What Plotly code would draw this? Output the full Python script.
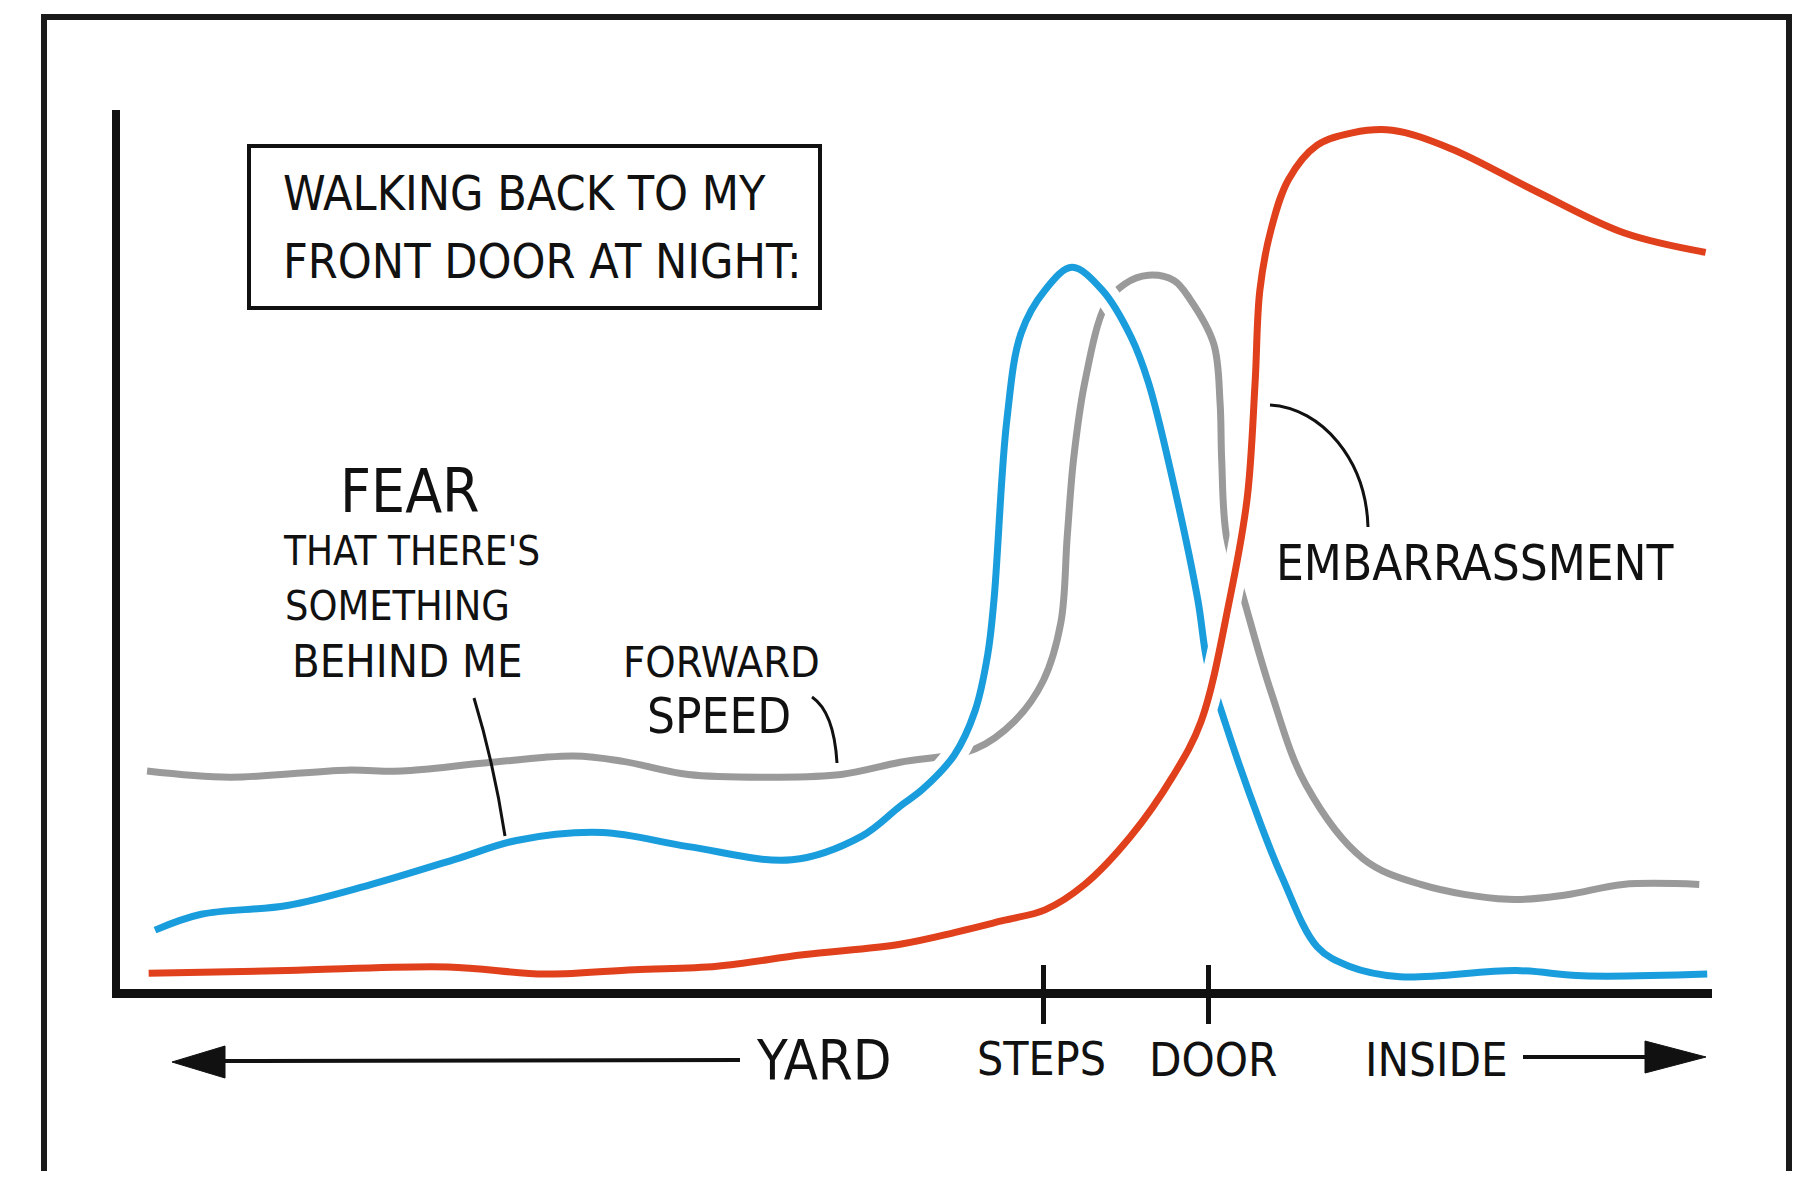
import plotly.graph_objects as go

# ---------------- data (x: 0..100 along the walk, y: 0..100 level) ----------------
speed_x = [1.7, 6.9, 14.2, 17.7, 22.9, 28.5, 31.6, 35.7, 41.1, 45.3, 49.0, 53.7, 56.2, 58.0, 59.1,
           59.5, 59.9, 60.6, 61.9, 63.1, 64.6, 66.2, 67.2, 68.7, 69.1, 69.2, 69.5, 70.6, 72.3,
           74.5, 78.1, 81.7, 87.2, 90.8, 94.4, 99.2]
speed_y = [24.8, 24.1, 24.9, 24.8, 25.7, 26.5, 25.9, 24.4, 24.1, 24.4, 25.8, 27.3, 30.5, 35.1, 41.7,
           51.5, 60.3, 69.0, 77.8, 80.2, 81.2, 80.6, 78.5, 73.4, 66.7, 60.3, 51.5, 44.3, 33.8,
           23.2, 14.8, 11.9, 10.2, 10.7, 11.9, 11.9]

fear_x = [2.2, 5.1, 10.5, 15.6, 21.3, 24.9, 30.3, 35.7, 42.2, 46.6, 49.0, 50.4, 52.4, 53.7, 54.5,
          54.9, 55.7, 56.6, 58.1, 59.8, 61.7, 63.5, 64.6, 66.1, 67.7, 68.3, 69.4, 71.6, 73.0,
          75.2, 77.2, 80.4, 87.7, 91.9, 99.7]
fear_y = [6.7, 8.5, 9.5, 11.8, 14.9, 16.9, 17.8, 16.2, 14.7, 17.4, 20.8, 22.7, 26.6, 31.6, 38.0,
          44.3, 64.6, 74.6, 79.5, 82.1, 79.5, 74.2, 69.0, 58.1, 44.3, 37.1, 30.4, 19.0, 12.7,
          4.8, 2.6, 1.4, 2.1, 1.5, 1.7]

emb_x = [1.8, 10.5, 20.6, 26.7, 32.3, 37.5, 42.9, 49.0, 52.6, 55.5, 58.1, 60.6, 63.5, 66.1, 67.9,
         69.7, 70.8, 71.3, 71.6, 72.3, 73.4, 75.2, 77.4, 79.9, 83.6, 89.0, 94.5, 99.6]
emb_y = [1.8, 2.1, 2.5, 1.7, 2.2, 2.6, 3.9, 5.1, 6.5, 7.8, 9.0, 11.9, 17.4, 24.1, 30.4,
         44.3, 55.8, 69.0, 79.5, 86.4, 92.1, 96.0, 97.4, 97.7, 95.6, 90.7, 86.0, 83.8]

tick_vals = [58.0, 68.4]                       # STEPS, DOOR tick marks
axis_labels = ["YARD", "STEPS", "DOOR", "INSIDE"]
axis_label_x = [44.2, 57.9, 68.7, 82.7]
axis_label_size = [56, 46, 47, 47]

title_lines = ["WALKING BACK TO MY", "FRONT DOOR AT NIGHT:"]
fear_label = ["FEAR", "THAT THERE'S", "SOMETHING", "BEHIND ME"]
speed_label = ["FORWARD", "SPEED"]
emb_label = "EMBARRASSMENT"

# ---------------- styling / layout geometry ----------------
W, H = 1808, 1179          # browser window
BODY = 8                   # default html body margin
FW, FH = W - 2 * BODY, H - 2 * BODY
PL, PR, PT, PB = 120, 1712, 110, 989   # plot area in window pixels
FONT = "DejaVu Sans Condensed, Liberation Sans Narrow, Liberation Sans, sans-serif"
INK = "#111111"
GRAY, BLUE, RED = "#9a9a9a", "#1a9ddc", "#e0401b"


def X(px):
    return (px - PL) / (PR - PL) * 100


def Y(py):
    return (PB - py) / (PB - PT) * 100


def PX(px):
    return (px - PL) / (PR - PL)


def PY(py):
    return (PB - py) / (PB - PT)


fig = go.Figure()

line_kw = dict(shape="spline", smoothing=1.0)
fig.add_trace(go.Scatter(x=speed_x, y=speed_y, mode="lines",
                         line=dict(color=GRAY, width=7, **line_kw), hoverinfo="skip"))
fig.add_trace(go.Scatter(x=fear_x, y=fear_y, mode="lines",
                         line=dict(color="white", width=24, **line_kw), hoverinfo="skip"))
fig.add_trace(go.Scatter(x=fear_x, y=fear_y, mode="lines",
                         line=dict(color=BLUE, width=7, **line_kw), hoverinfo="skip"))
fig.add_trace(go.Scatter(x=emb_x, y=emb_y, mode="lines",
                         line=dict(color="white", width=24, **line_kw), hoverinfo="skip"))
fig.add_trace(go.Scatter(x=emb_x, y=emb_y, mode="lines",
                         line=dict(color=RED, width=7, **line_kw), hoverinfo="skip"))
# empty trace to carry the inner half of the tick marks
fig.add_trace(go.Scatter(x=[], y=[], xaxis="x2", yaxis="y", hoverinfo="skip"))

shapes = []
# outer comic frame
shapes.append(dict(type="rect", xref="paper", yref="paper",
                   x0=PX(44), x1=PX(1789), y0=PY(1240), y1=PY(17),
                   line=dict(color="#1a1a1a", width=6)))
# title box
shapes.append(dict(type="rect", xref="paper", yref="paper",
                   x0=PX(249), x1=PX(820), y0=PY(308), y1=PY(146),
                   line=dict(color=INK, width=4)))


def qpath(p0, c, p1):
    return "M {},{} Q {},{} {},{}".format(X(p0[0]), Y(p0[1]), X(c[0]), Y(c[1]), X(p1[0]), Y(p1[1]))


def cpath(p0, c1, c2, p1):
    return "M {},{} C {},{} {},{} {},{}".format(X(p0[0]), Y(p0[1]), X(c1[0]), Y(c1[1]),
                                               X(c2[0]), Y(c2[1]), X(p1[0]), Y(p1[1]))


leader = dict(color=INK, width=3)
shapes.append(dict(type="path", xref="x", yref="y", path=qpath((474, 698), (494, 764), (505, 836)), line=leader))
shapes.append(dict(type="path", xref="x", yref="y", path=qpath((812, 697), (834, 712), (837, 763)), line=leader))
shapes.append(dict(type="path", xref="x", yref="y",
                   path=cpath((1270, 405), (1322, 408), (1366, 460), (1368, 527)), line=leader))

# direction arrows under the axis
shapes.append(dict(type="line", xref="paper", yref="paper", x0=PX(740), x1=PX(215),
                   y0=PY(1060), y1=PY(1061), line=dict(color=INK, width=4)))
shapes.append(dict(type="path", xref="paper", yref="paper",
                   path="M {},{} L {},{} L {},{} Z".format(PX(172), PY(1062), PX(225), PY(1046), PX(225), PY(1078)),
                   fillcolor=INK, line=dict(color=INK, width=1)))
shapes.append(dict(type="line", xref="paper", yref="paper", x0=PX(1523), x1=PX(1655),
                   y0=PY(1057), y1=PY(1057), line=dict(color=INK, width=4)))
shapes.append(dict(type="path", xref="paper", yref="paper",
                   path="M {},{} L {},{} L {},{} Z".format(PX(1706), PY(1057), PX(1645), PY(1041), PX(1645), PY(1073)),
                   fillcolor=INK, line=dict(color=INK, width=1)))

ann = []


def txt(text, px, py, size, xanchor="center"):
    ann.append(dict(text=text, xref="x", x=X(px), yref="y", y=Y(py),
                    xanchor=xanchor, yanchor="middle", showarrow=False,
                    font=dict(family=FONT, size=size, color=INK)))


txt(title_lines[0], 281, 193, 48, xanchor="left")
txt(title_lines[1], 281, 261, 48, xanchor="left")
txt(fear_label[0], 410, 491, 60)
txt(fear_label[1], 411, 551, 40)
txt(fear_label[2], 397, 606, 41)
txt(fear_label[3], 407, 661, 45)
txt(speed_label[0], 721, 662, 43)
txt(speed_label[1], 719, 716, 49)
txt(emb_label, 1475, 563, 49)
for lab, xv, sz in zip(axis_labels, axis_label_x, axis_label_size):
    ann.append(dict(text=lab, xref="x", x=xv, yref="paper", y=PY(1059),
                    xanchor="center", yanchor="middle", showarrow=False,
                    font=dict(family=FONT, size=sz, color=INK)))

fig.update_layout(
    width=FW, height=FH,
    margin=dict(l=PL - BODY, r=FW - (PR - BODY), t=PT - BODY, b=FH - (PB - BODY), pad=0),
    paper_bgcolor="white", plot_bgcolor="white",
    showlegend=False, hovermode=False,
    shapes=shapes, annotations=ann,
    xaxis=dict(range=[0, 100], showgrid=False, zeroline=False,
               showline=True, linewidth=9, linecolor=INK,
               tickmode="array", tickvals=tick_vals, showticklabels=False,
               ticks="outside", ticklen=26, tickwidth=5, tickcolor=INK),
    xaxis2=dict(range=[0, 100], overlaying="x", matches="x", anchor="y", side="bottom",
                showgrid=False, zeroline=False, showline=False,
                tickmode="array", tickvals=tick_vals, showticklabels=False,
                ticks="inside", ticklen=24, tickwidth=5, tickcolor=INK),
    yaxis=dict(range=[0, 100], showgrid=False, zeroline=False,
               showline=True, linewidth=8, linecolor=INK,
               showticklabels=False, ticks=""),
)

fig.write_html("out.html")
